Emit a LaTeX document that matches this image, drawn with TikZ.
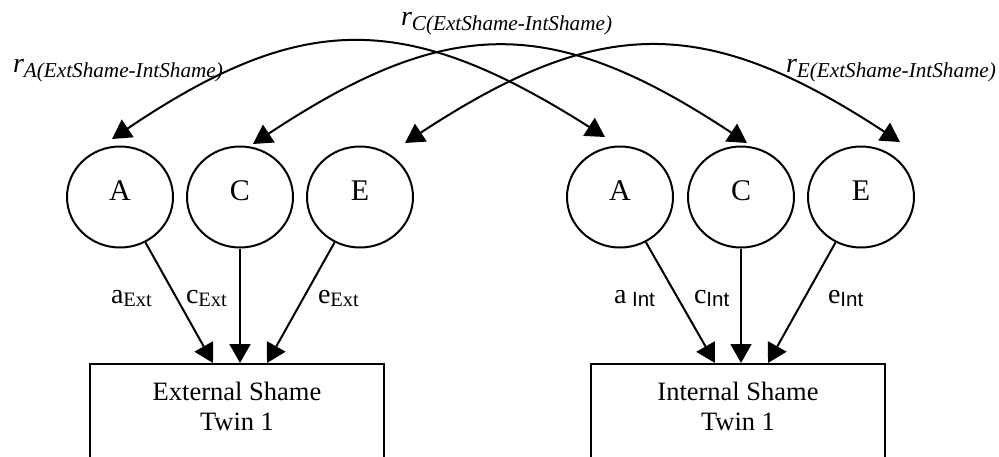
\documentclass[tikz,border=0pt]{standalone}
\usepackage{fontspec}
\setmainfont{Liberation Serif}
\newfontfamily\labsans{Liberation Sans}
\usetikzlibrary{arrows.meta,shapes.geometric}

% path coefficient: letter with a lowered subscript
\newcommand\plab[2]{{\fontsize{28}{28}\selectfont #1}{\fontsize{20.5}{20.5}\selectfont\raisebox{-3pt}{#2}}}
% genetic / environmental correlation label
\newcommand\rlab[2]{{\fontsize{28}{28}\selectfont\itshape #1}{\fontsize{21.2}{21.2}\selectfont\itshape\raisebox{-5pt}{#2}}}

\begin{document}
\begin{tikzpicture}[x=1pt,y=-1pt,line width=2pt,
  latent/.style={ellipse,draw,minimum width=106pt,minimum height=101pt,inner sep=0pt,
    font=\fontsize{30}{30}\selectfont,text depth=12pt},
  measure/.style={rectangle,draw,minimum width=294pt,minimum height=130pt,anchor=north,inner sep=0pt},
  boxtext/.style={align=center,anchor=north,inner sep=0pt,font=\fontsize{26.5}{30}\selectfont},
  load/.style={-{Triangle[length=19pt,width=21pt]}},
  corr/.style={{Triangle[length=19pt,width=21pt]}-{Triangle[length=19pt,width=21pt]}},
  pathlabel/.style={anchor=base west,inner sep=0pt}]

\useasboundingbox (0,0) rectangle (999,456);

% latent factors
\node[latent] (la) at (120,197) {A};
\node[latent] (lc) at (240,197) {C};
\node[latent] (le) at (360,197) {E};
\node[latent] (ra) at (620,197) {A};
\node[latent] (rc) at (741,197) {C};
\node[latent] (re) at (861,197) {E};

% observed phenotypes (boxes run off the lower edge)
\node[measure] (ext) at (237,363) {};
\node[measure] (int) at (738,363) {};
\node[boxtext] (extlab) at (237,381) {External Shame\\Twin 1};
\node[boxtext] (intlab) at (738,381) {Internal Shame\\Twin 1};

% factor loadings
\draw[load] (la) -- ([xshift=-24pt]ext.north);
\draw[load] (lc.south) -- (lc.south |- ext.north);
\draw[load] (le) -- ([xshift=30pt]ext.north);
\draw[load] (ra) -- ([xshift=-23pt]int.north);
\draw[load] (rc.south) -- (rc.south |- int.north);
\draw[load] (re) -- ([xshift=30pt]int.north);

\node[pathlabel] (pae) at (110,303) {\plab{a}{Ext}};
\node[pathlabel] (pce) at (185,303) {\plab{c}{Ext}};
\node[pathlabel] (pee) at (317,303) {\plab{e}{Ext}};
\node[pathlabel] (pai) at (613,303) {\plab{a}{\labsans\ Int}};
\node[pathlabel] (pci) at (693,303) {\plab{c}{\labsans Int}};
\node[pathlabel] (pei) at (827,303) {\plab{e}{\labsans Int}};

% cross-trait correlations
\draw[corr] ([xshift=-8pt,yshift=6.5pt]la.north)
  .. controls +(190,-128) and +(-200,-127) .. ([xshift=-15pt,yshift=8.5pt]ra.north);
\draw[corr] ([xshift=13pt,yshift=1.5pt]lc.north)
  .. controls +(195,-129) and +(-195,-129) .. ([xshift=6pt,yshift=2.5pt]rc.north);
\draw[corr] ([xshift=45pt,yshift=2.5pt]le.north)
  .. controls +(195,-128) and +(-195,-128) .. ([xshift=39pt,yshift=3.5pt]re.north);

\node[pathlabel] (ra-lab) at (12,72) {\rlab{r}{A(ExtShame-IntShame)}};
\node[pathlabel] (rc-lab) at (400,25) {\rlab{r}{C(ExtShame-IntShame)}};
\node[pathlabel] (re-lab) at (785,72) {\rlab{r}{E(ExtShame-IntShame)}};
\end{tikzpicture}
\end{document}
